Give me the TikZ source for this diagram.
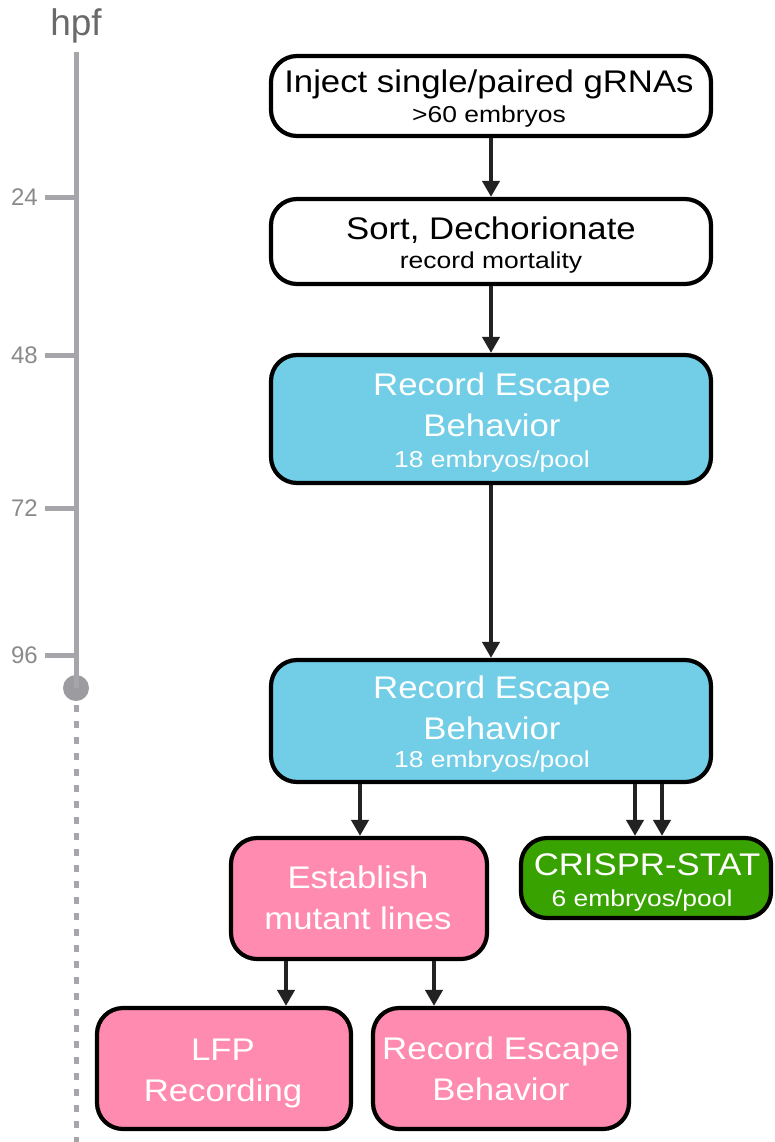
\documentclass[tikz,border=0pt]{standalone}
\usepackage{fontspec}
\setmainfont{Liberation Sans}
\newfontfamily\boxfont{Liberation Sans}[FakeStretch=1.11]
\newfontfamily\subfont{Liberation Sans}[FakeStretch=1.15]
\usetikzlibrary{arrows.meta}
\definecolor{tlgray}{HTML}{A6A6AA}
\definecolor{dotgray}{HTML}{9C9CA0}
\definecolor{hpfgray}{HTML}{6A6A6A}
\definecolor{tickgray}{HTML}{8A8A8A}
\definecolor{bluebox}{HTML}{72CEE7}
\definecolor{pinkbox}{HTML}{FF8BB1}
\definecolor{greenbox}{HTML}{38A300}
\definecolor{arrcol}{HTML}{222222}
\begin{document}
\begin{tikzpicture}[x=1pt,y=-1pt,
  box/.style={draw=black, line width=4.2pt, rounded corners=26pt, inner sep=0pt},
  maintxt/.style={anchor=base, inner sep=0pt, font=\boxfont\fontsize{31.3}{36}\selectfont},
  subtxt/.style={anchor=base, inner sep=0pt, font=\subfont\fontsize{23}{27}\selectfont},
  flow/.style={draw=arrcol, line width=4.5pt, -{Triangle[length=16pt,width=17pt]}},
  tickl/.style={anchor=east, inner sep=0pt, text=tickgray, font=\fontsize{24}{28}\selectfont}
]
\useasboundingbox (0,0) rectangle (774,1142);
% timeline
\node[anchor=base, inner sep=0pt, text=hpfgray, font=\fontsize{37}{42}\selectfont] (hpf) at (76,36) {hpf};
\coordinate (tltop) at (76,52);
\node[circle, fill=dotgray, minimum size=26pt, inner sep=0pt] (tlend) at (76,688) {};
\coordinate (tlbot) at (76,1142);
\draw[tlgray, line width=5pt] (tltop) -- (tlend.center);
\draw[tlgray, line width=5pt, dash pattern=on 7pt off 9pt] (tlend.south) ++(0,4) -- (tlbot);
\foreach \y/\t in {197/24,355/48,508/72,655/96}{
  \coordinate (tk\t) at (45,\y);
  \draw[tlgray, line width=5pt] (tk\t) -- (tk\t -| tltop);
  \node[tickl] (lab\t) at (38,\y) {\t};
}
% boxes
\node[box, fill=white, minimum width=440pt, minimum height=80pt] (b1) at (491,96) {};
\node[box, fill=white, minimum width=440pt, minimum height=85pt] (b2) at (491,241.5) {};
\node[box, fill=bluebox, minimum width=440pt, minimum height=128pt] (b3) at (491,419) {};
\node[box, fill=bluebox, minimum width=440pt, minimum height=122pt] (b4) at (491,721) {};
\node[box, fill=pinkbox, minimum width=256pt, minimum height=121pt] (est) at (359,898.5) {};
\node[box, fill=greenbox, minimum width=250pt, minimum height=80pt] (cri) at (646,878) {};
\node[box, fill=pinkbox, minimum width=254pt, minimum height=121pt] (lfp) at (224,1068.5) {};
\node[box, fill=pinkbox, minimum width=256pt, minimum height=121pt] (rec) at (501,1068.5) {};
% texts
\node[maintxt] (t1a) at (489,93) {Inject single/paired gRNAs};
\node[subtxt] (t1b) at (489,123) {>60 embryos};
\node[maintxt] (t2a) at (491,239) {Sort, Dechorionate};
\node[subtxt] (t2b) at (491,268) {record mortality};
\node[maintxt, text=white] (t3a) at (492,395) {Record Escape};
\node[maintxt, text=white] (t3b) at (492,436) {Behavior};
\node[subtxt, text=white] (t3c) at (492,467) {18 embryos/pool};
\node[maintxt, text=white] (t4a) at (492,698) {Record Escape};
\node[maintxt, text=white] (t4b) at (492,739) {Behavior};
\node[subtxt, text=white] (t4c) at (492,767) {18 embryos/pool};
\node[maintxt, text=white] (t5a) at (358,888) {Establish};
\node[maintxt, text=white] (t5b) at (358,929) {mutant lines};
\node[maintxt, text=white] (t6a) at (647,875) {CRISPR-STAT};
\node[subtxt, text=white] (t6b) at (642,906) {6 embryos/pool};
\node[maintxt, text=white] (t7a) at (223,1060) {LFP};
\node[maintxt, text=white] (t7b) at (223,1101) {Recording};
\node[maintxt, text=white] (t8a) at (501,1059) {Record Escape};
\node[maintxt, text=white] (t8b) at (501,1100) {Behavior};
% arrows
\coordinate (x360) at (360,0);
\coordinate (x635) at (635,0);
\coordinate (x662) at (662,0);
\coordinate (x286) at (286,0);
\coordinate (x434) at (434,0);
\draw[flow] (b1.south) -- (b2.north);
\draw[flow] (b2.south) -- (b3.north);
\draw[flow] (b3.south) -- (b4.north);
\draw[flow] (b4.south -| x360) -- (est.north -| x360);
\draw[flow] (b4.south -| x635) -- (cri.north -| x635);
\draw[flow] (b4.south -| x662) -- (cri.north -| x662);
\draw[flow] (est.south -| x286) -- (lfp.north -| x286);
\draw[flow] (est.south -| x434) -- (rec.north -| x434);
\end{tikzpicture}
\end{document}
